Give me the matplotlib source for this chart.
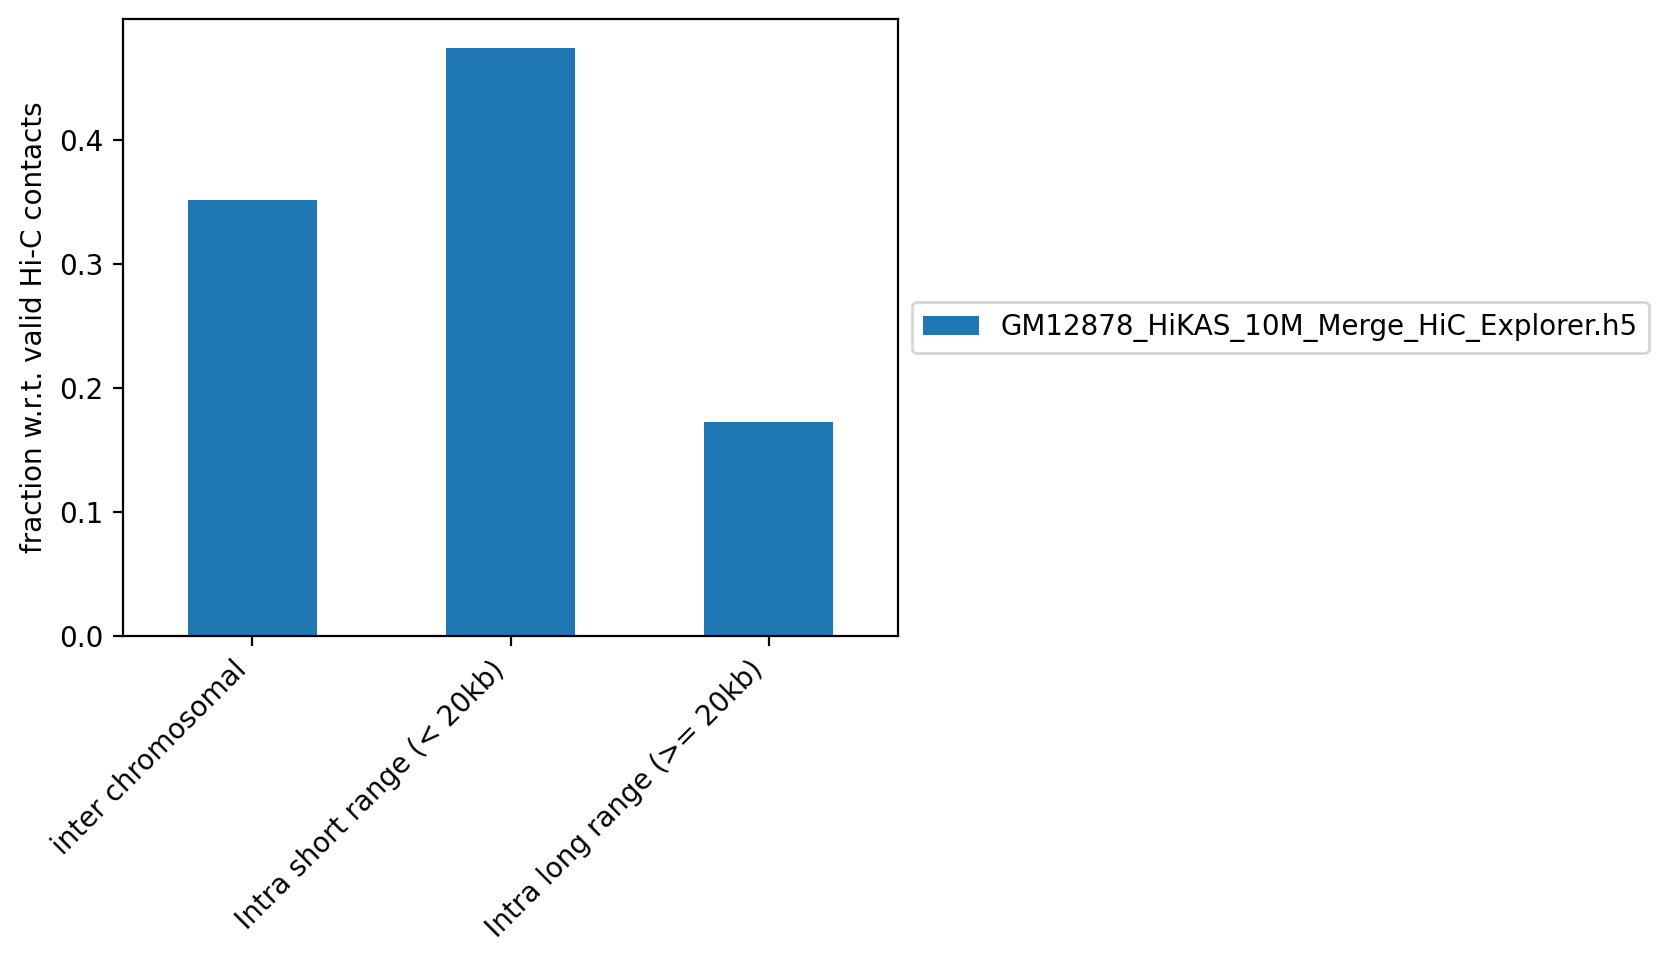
import matplotlib
matplotlib.use('Agg')
import matplotlib.pyplot as plt

# Datos
categorias = ['inter chromosomal', 'Intra short range (< 20kb)',
              'Intra long range (>= 20kb)']
fracciones = [0.352, 0.474, 0.1725]
etiqueta = 'GM12878_HiKAS_10M_Merge_HiC_Explorer.h5'

fig = plt.figure(figsize=(1673 / 200, 963 / 200), dpi=200)
ax = fig.add_axes([123 / 1673, 1 - 636 / 963, 775 / 1673, 617 / 963])

x = range(len(categorias))
ax.bar(x, fracciones, width=0.5, color='#1f77b4', label=etiqueta)
ax.set_xlim(-0.5, len(categorias) - 0.5)
ax.set_ylim(0, max(fracciones) * 1.05)
ax.set_xticks(list(x))
ax.set_xticklabels(categorias, rotation=45, ha='right')
ax.set_ylabel('fraction w.r.t. valid Hi-C contacts')
ax.legend(loc='center left', bbox_to_anchor=(1, 0.5))

fig.savefig('out.png', dpi=200)
